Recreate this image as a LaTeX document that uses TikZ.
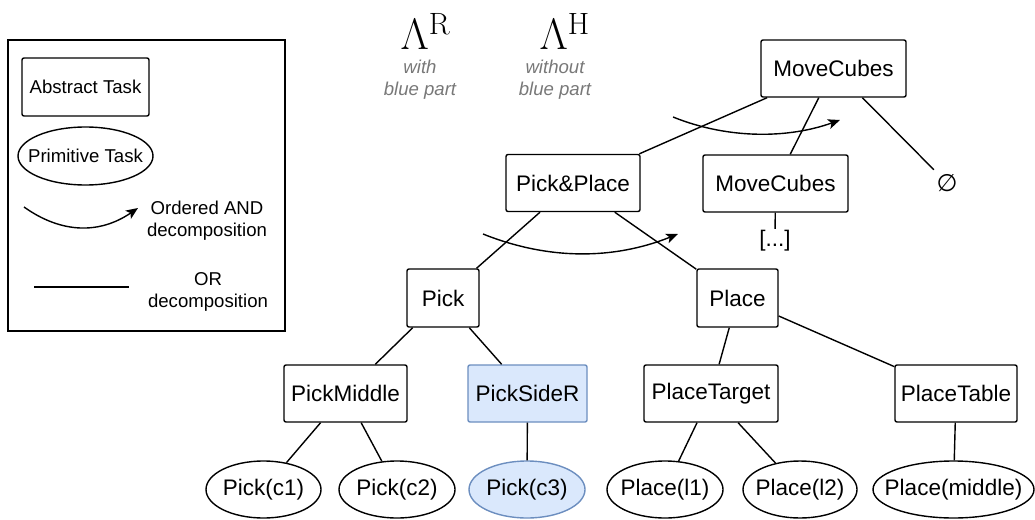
\RequirePackage{fix-cm}
\documentclass[tikz,border=0pt]{standalone}
\usepackage[no-math]{fontspec}
\setmainfont{Liberation Sans}
\newfontfamily\symfont{DejaVu Sans}
\usetikzlibrary{shapes,positioning,arrows.meta}
\definecolor{blueFill}{HTML}{DAE8FC}
\definecolor{blueLine}{HTML}{6C8EBF}
\definecolor{noteGray}{RGB}{120,120,120}
\newcommand{\nowd}[1]{\makebox[0pt]{#1}}

\begin{document}
\begin{tikzpicture}[x=1pt,y=-1pt,line width=1.4pt,
	task/.style={draw,rectangle,rounded corners=2pt,minimum height=57pt,inner sep=0pt,font=\fontsize{22.5}{27}\selectfont},
	prim/.style={draw,ellipse,minimum height=57pt,inner sep=0pt,font=\fontsize{22.5}{27}\selectfont},
	hilite/.style={fill=blueFill,draw=blueLine},
	leg/.style={font=\fontsize{18.6}{22}\selectfont,align=center},
	note/.style={font=\fontsize{18.6}{22}\selectfont\itshape,align=center,text=noteGray,inner sep=0pt},
	lam/.style={anchor=base west,inner sep=0pt,font=\fontsize{44}{50}\selectfont},
	seq/.style={-{Stealth[length=12pt,width=10pt,inset=3pt]}}]
			\useasboundingbox (0,0) rectangle (1035,519);

			\node[draw,minimum width=277pt,minimum height=291pt,inner sep=0pt] (legend) at (146.5,185.5) {};
			\node[task,leg,minimum width=127pt,minimum height=58pt] (absT) at (85.5,87) {Abstract Task};
			\node[prim,leg,minimum width=135pt,minimum height=58pt] (primT) at (85.5,156) {\nowd{Primitive Task}};
			\draw[seq] (24,207) .. controls (62,234) and (100,234) .. (138,208);
			\node[leg] (andL) at (207,221) {Ordered AND\\decomposition};
			\coordinate (or0) at (34,287);
			\coordinate (or1) at (129,287);
			\draw (or0) -- (or1);
			\node[leg] (orL) at (208,292) {OR\\decomposition};

			\node[lam] (lamR) at (400,50) {$\Lambda^{\mathrm{R}}$};
			\node[lam] (lamH) at (539,50) {$\Lambda^{\mathrm{H}}$};
			\node[note] (withR) at (420,80) {with\\blue part};
			\node[note] (withH) at (555,80) {without\\blue part};

			\node[task,minimum width=145pt] (MC) at (833.5,68.5) {MoveCubes};
			\node[task,minimum width=134pt] (PP) at (573,183) {Pick\&Place};
			\node[task,minimum width=145pt] (MC2) at (775.5,183.5) {MoveCubes};
			\node[circle,minimum size=36pt,inner sep=0pt,font=\fontsize{24}{28}\symfont] (Emp) at (947,183) {∅};
			\node[inner sep=1pt,font=\fontsize{22.5}{27}\selectfont] (dots) at (775,241) {[...]};
			\node[task,minimum width=72pt,minimum height=58pt] (Pk) at (443,298) {Pick};
			\node[task,minimum width=81pt,minimum height=58pt] (Pl) at (737.5,298) {Place};
			\node[task,minimum width=123pt] (PM) at (345.5,393.5) {PickMiddle};
			\node[task,hilite,minimum width=119pt] (PS) at (527.5,393.5) {PickSideR};
			\node[task,minimum width=134pt] (PT) at (711,393.5) {PlaceTarget};
			\node[task,minimum width=122pt] (PTb) at (956,393.5) {PlaceTable};
			\node[prim,minimum width=115pt] (c1) at (263.5,489.5) {\nowd{Pick(c1)}};
			\node[prim,minimum width=116pt] (c2) at (397,489.5) {\nowd{Pick(c2)}};
			\node[prim,hilite,minimum width=116pt] (c3) at (527,489.5) {\nowd{Pick(c3)}};
			\node[prim,minimum width=116pt] (l1) at (665,489.5) {\nowd{Place(l1)}};
			\node[prim,minimum width=114pt] (l2) at (800,489.5) {\nowd{Place(l2)}};
			\node[prim,minimum width=161pt] (mid) at (953.5,489.5) {\nowd{Place(middle)}};

			\path (MC) edge (PP)
					edge (MC2)
					edge (Emp)
				(MC2) edge (dots)
				(PP) edge (Pk)
					edge (Pl)
				(Pk) edge (PM)
					edge (PS)
				(Pl) edge (PT)
					edge (PTb)
				(PM) edge (c1)
					edge (c2)
				(PS) edge (c3)
				(PT) edge (l1)
					edge (l2)
				(PTb) edge (mid);

			\draw[seq] (483,234) .. controls (548,260) and (613,260) .. (678,234);
			\draw[seq] (673,117) .. controls (730,140) and (790,138) .. (840,120);
		\end{tikzpicture}
\end{document}
